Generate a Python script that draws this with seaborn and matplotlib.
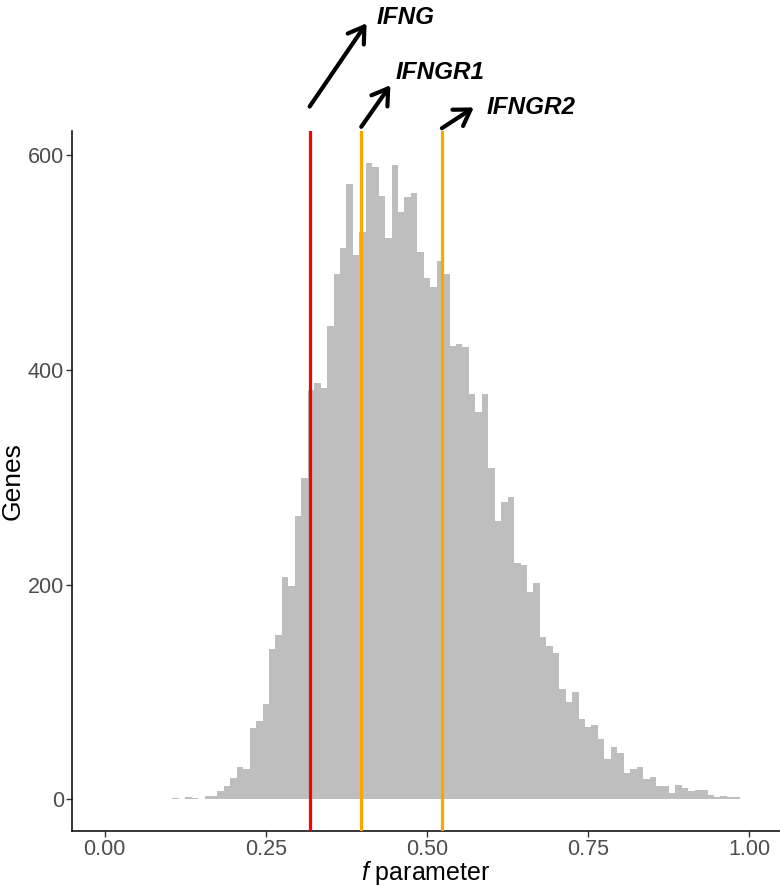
import numpy as np
import pandas as pd
import seaborn as sns
import matplotlib.pyplot as plt
from matplotlib.transforms import blended_transform_factory


# ==================== Data ====================

# bin centres of the f parameter histogram (bin width 0.01)
f_centres = [
    0.11, 0.12, 0.13, 0.14, 0.15, 0.16, 0.17, 0.18, 0.19, 0.20,
    0.21, 0.22, 0.23, 0.24, 0.25, 0.26, 0.27, 0.28, 0.29, 0.30,
    0.31, 0.32, 0.33, 0.34, 0.35, 0.36, 0.37, 0.38, 0.39, 0.40,
    0.41, 0.42, 0.43, 0.44, 0.45, 0.46, 0.47, 0.48, 0.49, 0.50,
    0.51, 0.52, 0.53, 0.54, 0.55, 0.56, 0.57, 0.58, 0.59, 0.60,
    0.61, 0.62, 0.63, 0.64, 0.65, 0.66, 0.67, 0.68, 0.69, 0.70,
    0.71, 0.72, 0.73, 0.74, 0.75, 0.76, 0.77, 0.78, 0.79, 0.80,
    0.81, 0.82, 0.83, 0.84, 0.85, 0.86, 0.87, 0.88, 0.89, 0.90,
    0.91, 0.92, 0.93, 0.94, 0.95, 0.96, 0.97, 0.98,
]
# number of genes per bin
gene_counts = [
    1, 0, 2, 1, 0, 3, 3, 8, 12, 20,
    30, 28, 66, 73, 89, 140, 153, 207, 199, 264,
    299, 381, 388, 383, 441, 489, 514, 573, 507, 529,
    593, 589, 562, 523, 591, 547, 561, 565, 510, 486,
    477, 502, 489, 422, 424, 421, 378, 361, 378, 309,
    259, 277, 282, 220, 218, 193, 201, 151, 143, 136,
    103, 91, 100, 75, 67, 69, 56, 37, 49, 43,
    24, 28, 30, 19, 21, 12, 12, 6, 13, 10,
    8, 9, 9, 4, 2, 3, 2, 2,
]

marker_genes = ["IFNG", "IFNGR1", "IFNGR2"]
marker_f = [0.318, 0.398, 0.523]
marker_colors = ["#FF0000", "#FFA500", "#FFA500"]

x_ticks = [0.0, 0.25, 0.5, 0.75, 1.0]
x_tick_labels = ["0.00", "0.25", "0.50", "0.75", "1.00"]
y_ticks = [0, 200, 400, 600]

hist_df = pd.DataFrame({"f": f_centres, "genes": gene_counts})

# ---------- annotation layout (axes fraction / offset points)
arrow_tail_y = [1.035, 1.006, 1.004]
arrow_head_offset = [(41, 60), (21, 30), (23, 15)]
label_offset = [(48, 64), (25, 39), (32, 15)]


# ==================== Plot ====================

sns.set_style("white")
plt.rcParams["font.family"] = ["Liberation Sans", "DejaVu Sans"]
plt.rcParams["mathtext.fontset"] = "custom"
plt.rcParams["mathtext.it"] = "Liberation Sans:italic"
plt.rcParams["mathtext.rm"] = "Liberation Sans"

fig = plt.figure(figsize=(7.8, 8.86), dpi=100)
ax = fig.add_axes([0.0927, 0.0621, 0.9073, 0.790])

sns.histplot(
    hist_df,
    x="f",
    weights="genes",
    binwidth=0.01,
    binrange=(0.105, 0.985),
    color="#BEBEBE",
    alpha=1,
    linewidth=0,
    ax=ax,
)

for f, c in zip(marker_f, marker_colors):
    ax.axvline(f, color=c, lw=2.3, zorder=3)

ax.set_xlim(-0.05, 1.0473)
ax.set_ylim(-29.65, 622.65)
ax.set_xticks(x_ticks)
ax.set_xticklabels(x_tick_labels)
ax.set_yticks(y_ticks)
ax.tick_params(axis="both", bottom=True, left=True, length=4, width=1,
               color="#333333", labelsize=15.5, labelcolor="#4D4D4D", pad=2)

for side in ["top", "right"]:
    ax.spines[side].set_visible(False)
for side in ["left", "bottom"]:
    ax.spines[side].set_color("black")
    ax.spines[side].set_linewidth(1.1)

ax.set_xlabel(r"$\mathit{f}$ parameter", fontsize=18, color="black", labelpad=-1)
ax.set_ylabel("Genes", fontsize=19, color="black", labelpad=2)

# ---------- gene arrows above the panel
trans = blended_transform_factory(ax.transData, ax.transAxes)
for name, f, ty, head, lab in zip(marker_genes, marker_f, arrow_tail_y,
                                  arrow_head_offset, label_offset):
    ax.annotate(
        "", xy=(f, ty), xycoords=trans,
        xytext=head, textcoords="offset points",
        arrowprops=dict(arrowstyle="<-, head_length=0.55, head_width=0.35",
                        lw=3, color="black", mutation_scale=20,
                        shrinkA=0, shrinkB=0),
        annotation_clip=False,
    )
    ax.annotate(
        name, xy=(f, ty), xycoords=trans,
        xytext=lab, textcoords="offset points",
        ha="left", va="center", fontsize=17.5, color="black",
        fontweight="bold", fontstyle="italic",
        annotation_clip=False,
    )

plt.savefig("out.png", dpi=100)
